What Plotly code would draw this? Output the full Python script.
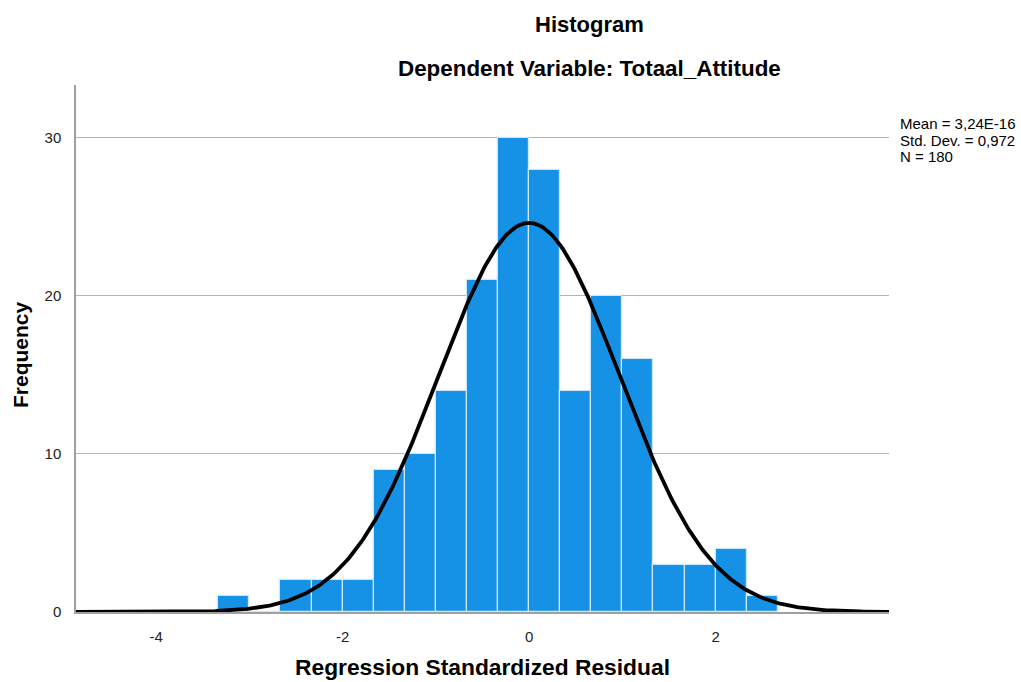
import numpy as np
import plotly.graph_objects as go

# histogram bins (width 1/3) and counts
bin_left = [-10/3, -3, -8/3, -7/3, -2, -5/3, -4/3, -1, -2/3, -1/3,
            0, 1/3, 2/3, 1, 4/3, 5/3, 2, 7/3]
counts = [1, 0, 2, 2, 2, 9, 10, 14, 21, 30,
          28, 14, 20, 16, 3, 3, 4, 1]
bin_width = 1/3

mean = 3.24e-16
std_dev = 0.972
n = 180

x_ticks = [-4, -2, 0, 2]
x_tick_text = ['-4', '-2', '0', '2']
y_ticks = [0, 10, 20, 30]

stats_lines = ["Mean = 3,24E-16", "Std. Dev. = 0,972", "N = 180"]

centers = [b + bin_width / 2 for b in bin_left]

# normal curve overlay from reported stats
xs = np.linspace(-4.86, 3.86, 400)
ys = n * bin_width * np.exp(-0.5 * ((xs - mean) / std_dev) ** 2) / (std_dev * np.sqrt(2 * np.pi))

# plot area in page pixels
PL, PR, PT, PB = 76, 889, 85, 612
W, H = 1021, 682
def px(x):
    return (x - PL) / (PR - PL)
def py(y):
    return (PB - y) / (PB - PT)

fig = go.Figure()
fig.add_trace(go.Bar(
    x=centers, y=counts, width=bin_width,
    marker=dict(color='#1591e6', line=dict(color='#cfe7fa', width=1.2)),
    showlegend=False, hoverinfo='skip'
))
fig.add_trace(go.Scatter(
    x=xs, y=ys, mode='lines',
    line=dict(color='black', width=3.8),
    showlegend=False, hoverinfo='skip'
))

font = "Liberation Sans, Arial, sans-serif"
annotations = [
    dict(text="<b>Histogram</b>", x=px(589), y=py(24), xanchor='center', yanchor='middle',
         font=dict(size=22, color='black')),
    dict(text="<b>Dependent Variable: Totaal_Attitude</b>", x=px(589), y=py(68),
         xanchor='center', yanchor='middle', font=dict(size=22.4, color='black')),
    dict(text="<b>Frequency</b>", x=px(20), y=py(355), textangle=-90,
         xanchor='center', yanchor='middle', font=dict(size=21, color='black')),
    dict(text="<b>Regression Standardized Residual</b>", x=px(482), y=py(667),
         xanchor='center', yanchor='middle', font=dict(size=22.8, color='black')),
]
for i, line in enumerate(stats_lines):
    annotations.append(dict(text=line, x=px(898), y=py(124 + 16 * i), xanchor='left',
                            yanchor='middle', font=dict(size=15, color='black')))
for a in annotations:
    a.update(xref='paper', yref='paper', showarrow=False)

fig.update_layout(
    width=W, height=H,
    margin=dict(l=PL, r=W - PR, t=PT, b=H - PB),
    plot_bgcolor='white', paper_bgcolor='white',
    font=dict(family=font, color='#222222'),
    bargap=0,
    xaxis=dict(range=[-4.86, 3.86], tickvals=x_ticks, ticktext=x_tick_text, showgrid=False,
               zeroline=False, showline=True, linecolor='#a0a0a0', linewidth=1.5,
               ticks='', tickfont=dict(size=15), ticklabelstandoff=10),
    yaxis=dict(range=[0, 33.35], tickvals=y_ticks, showgrid=True,
               gridcolor='#b4b4b4', gridwidth=1, zeroline=False, showline=True,
               linecolor='#a0a0a0', linewidth=1.5, ticks='', tickfont=dict(size=15),
               ticklabelstandoff=10),
    annotations=annotations,
)

# drop the default 8px body margin so the figure fills the window
fig.write_html("out.html", config={'displayModeBar': False},
               post_script="document.body.style.margin='0';document.body.style.overflow='hidden';")
